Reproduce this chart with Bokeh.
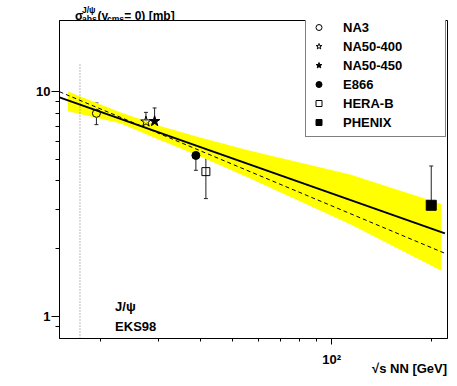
from bokeh.plotting import figure
from bokeh.layouts import column
from bokeh.models import (ColumnDataSource, Whisker, TeeHead, Legend, LegendItem,
                          FixedTicker, Range1d)
from bokeh.embed import file_html
from bokeh.resources import INLINE
from bokeh.core.properties import value

# ---------------- data ----------------
experiments = ["NA3", "NA50-400", "NA50-450", "E866", "HERA-B", "PHENIX"]
sqrt_s = [19.4, 27.4, 29.1, 38.8, 41.6, 200.0]
sigma = [7.98, 7.33, 7.36, 5.19, 4.40, 3.12]
sigma_hi = [8.87, 8.06, 8.43, 6.00, 5.81, 4.66]
sigma_lo = [7.11, 6.65, 6.36, 4.46, 3.34, 1.80]
markers = ["circle", "star", "star", "circle", "square", "square"]
filled = [False, False, True, True, False, True]
msize = [8, 11, 11, 8, 8, 10]

band_x = [15.9, 22.9, 30.2, 40.0, 56.6, 113.7, 214.7]
band_lo = [8.15, 7.21, 6.08, 5.14, 4.10, 2.57, 1.60]
band_hi = [9.98, 8.06, 7.02, 6.24, 5.44, 4.27, 3.16]

fit_x = [15.0, 220.0]
fit_y = [9.39, 2.34]
alt_x = [15.0, 220.0]
alt_y = [9.95, 1.91]

sps_x = [17.3, 17.3]
sps_y = [0.8, 13.2]

note_x = [22.1, 22.1]
note_y = [1.11, 0.906]
note_text = ["J/\u03c8", "EKS98"]

x_major = [100]
x_minor = [20, 30, 40, 50, 60, 70, 80, 90, 200]
y_major = [1, 10]
y_minor = [0.9, 2, 3, 4, 5, 6, 7, 8, 9]

# y-axis title pieces (composed with sub/superscripts)
ylab_text = ["\u03c3", "J/\u03c8", "abs", "(y", "cms", "= 0) [mb]"]
ylab_size = ["12px", "8.5px", "8.5px", "12px", "8.5px", "12px"]
x_title = "\u221as NN [GeV]"

# ---------------- layout ----------------
FULL_W = 449
TOP_H = 20
H = 358
BL, BR, BT, BB = 59, 2, 0, 39
X0, X1 = 15.0, 224.0
Y0, Y1 = 0.8, 20.6
FONT = "Liberation Sans"

# ---- top strip holding the y-axis title ----
top = figure(width=FULL_W, height=TOP_H, title=None,
             x_range=Range1d(0, FULL_W), y_range=Range1d(0, TOP_H),
             output_backend="svg", toolbar_location=None,
             x_axis_location=None, y_axis_location=None,
             min_border_left=0, min_border_right=0, min_border_top=0, min_border_bottom=0)
top.xgrid.visible = False
top.ygrid.visible = False
top.outline_line_color = None
top.background_fill_color = "white"
top.border_fill_color = "white"
ylab_px = [18, 26, 26, 44, 55, 75]
ylab_py = [5, 11, 1.5, 5, 1.5, 5]
ysrc = ColumnDataSource(dict(x=ylab_px, y=ylab_py, t=ylab_text, s=ylab_size))
top.text(x="x", y="y", text="t", source=ysrc, text_font=value(FONT),
         text_font_style="bold", text_font_size="s", text_color="black",
         text_baseline="alphabetic", text_align="left")

# ---- main plot ----
p = figure(width=FULL_W, height=H, title=None, x_axis_type="log", y_axis_type="log",
           x_range=Range1d(X0, X1), y_range=Range1d(Y0, Y1),
           output_backend="svg", toolbar_location=None,
           min_border_left=BL, min_border_right=BR, min_border_top=BT, min_border_bottom=BB)
p.xgrid.visible = False
p.ygrid.visible = False
p.outline_line_color = "black"
p.outline_line_width = 1
p.background_fill_color = "white"
p.border_fill_color = "white"

for ax in (p.xaxis[0], p.yaxis[0]):
    ax.major_label_text_font = FONT
    ax.major_label_text_font_style = "bold"
    ax.major_label_text_font_size = "13px"
    ax.major_label_text_color = "black"
    ax.major_tick_in = 0
    ax.minor_tick_in = 0
    ax.axis_line_color = "black"
    ax.major_tick_line_color = "black"
    ax.minor_tick_line_color = "black"

p.xaxis.ticker = FixedTicker(ticks=x_major, minor_ticks=x_minor)
p.xaxis.major_label_overrides = {100: "10\u00b2"}
p.xaxis.major_tick_out = 6
p.xaxis.minor_tick_out = 3
p.xaxis.major_label_standoff = 7
# x title: centred on the frame's right end, padded with no-break spaces so it ends there
p.xaxis.axis_label = x_title + "\u00a0" * 21
p.xaxis.axis_label_text_font = FONT
p.xaxis.axis_label_text_font_style = "bold"
p.xaxis.axis_label_text_font_size = "13px"
p.xaxis.axis_label_text_color = "black"
p.xaxis.axis_label_standoff = -9
for a in ("end", "right"):
    try:
        p.xaxis.axis_label_align = a
        break
    except Exception:
        pass

p.yaxis.ticker = FixedTicker(ticks=y_major, minor_ticks=y_minor)
p.yaxis.major_label_overrides = {1: "1", 10: "10"}
p.yaxis.major_tick_out = 8
p.yaxis.minor_tick_out = 4
p.yaxis.major_label_standoff = 1

# band and curves
p.varea(x=band_x, y1=band_lo, y2=band_hi, fill_color="#ffff00")
p.line(sps_x, sps_y, line_color="#777777", line_width=1, line_dash="1 2")
p.line(alt_x, alt_y, line_color="black", line_width=1, line_dash="4 3")
p.line(fit_x, fit_y, line_color="black", line_width=2)

# error bars
err_src = ColumnDataSource(dict(x=sqrt_s, lo=sigma_lo, hi=sigma_hi))
p.add_layout(Whisker(source=err_src, base="x", lower="lo", upper="hi",
                     line_color="#222222", line_width=1,
                     upper_head=TeeHead(size=4, line_color="#222222"),
                     lower_head=TeeHead(size=4, line_color="#222222")))

items = []
for i, name in enumerate(experiments):
    r = p.scatter(x=[sqrt_s[i]], y=[sigma[i]], marker=markers[i], size=msize[i],
                  line_color="black", line_width=1,
                  fill_color="black" if filled[i] else None)
    items.append(LegendItem(label=name, renderers=[r]))

legend = Legend(items=items, location=(246, 201),
                label_text_font=FONT, label_text_font_style="bold",
                label_text_font_size="13px", label_text_color="black",
                border_line_color="black", border_line_width=1,
                background_fill_color="white", background_fill_alpha=1,
                padding=5, spacing=1, label_height=18, glyph_height=18,
                glyph_width=15, label_standoff=17, label_width=97, margin=0)
p.add_layout(legend)

# annotation text inside the frame
p.text(x=note_x, y=note_y, text=note_text, text_font=value(FONT),
       text_font_style="bold", text_font_size="13px", text_color="black",
       text_baseline="alphabetic", text_align="left")

layout = column(top, p, spacing=0)
open("out.html", "w").write(file_html(layout, INLINE))
